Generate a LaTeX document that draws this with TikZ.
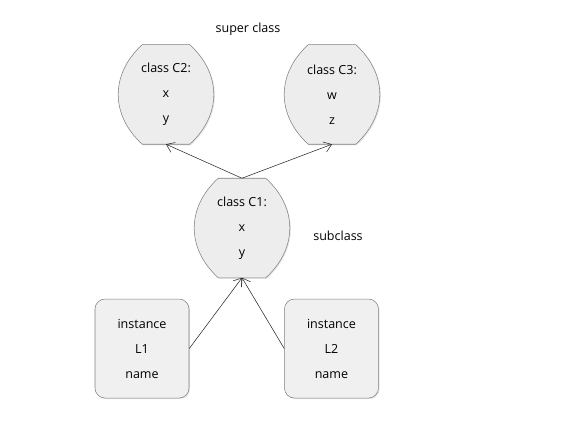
\documentclass[tikz,border=0pt]{standalone}
\usepackage{fontspec}
\setmainfont{Open Sans}
\usetikzlibrary{positioning,arrows.meta,backgrounds,shadows}

\tikzset{
	classnode/.style={minimum width=70.5pt, minimum height=74.25pt, inner sep=0pt, align=center, font=\fontsize{9.4}{18.75}\selectfont, yshift=0pt},
	instnode/.style={draw=black!50, fill=black!6, rounded corners=7.5pt, minimum width=70.5pt, minimum height=74.25pt, inner sep=0pt, align=center, font=\fontsize{9.4}{18.75}\selectfont, drop shadow={shadow xshift=0.8pt, shadow yshift=-0.8pt, opacity=0.2}},
	barrelline/.style={draw=black!50, fill=black!7, drop shadow={shadow xshift=0.8pt, shadow yshift=-0.8pt, opacity=0.2}},
	inherit/.style={draw=black!85, -{Straight Barb[length=5.5pt,width=8pt]}}
}

\begin{document}
\begin{tikzpicture}[x=0.75pt, y=-0.75pt]
	\useasboundingbox (0,0) rectangle (584,421);
	\node[classnode] (C1) at (242,228) {class C1:\\ x\\ y};
	\node[classnode, above = 25.5pt of C1, xshift=-57pt] (C2) {class C2:\\ x\\ y};
	\node[classnode, above = 25.5pt of C1, xshift=67.5pt] (C3) {class C3:\\ w\\ z};
	\node[instnode, below = 15.75pt of C1, xshift=-75pt] (L1) {instance\\ L1\\ name};
	\node[instnode, below = 15.75pt of C1, xshift=67.1pt] (L2) {instance\\ L2\\ name};
	\node[font=\fontsize{9.4}{10}\selectfont] (super) at (248,29) {super class};
	\node[font=\fontsize{9.4}{10}\selectfont] (sub) at (338,236) {subclass};
	% barrel outlines behind the class nodes
	\begin{scope}[on background layer]
		\foreach \n in {C1,C2,C3}
			\draw[barrelline] ([xshift=17.6pt]\n.north west) -- ([xshift=-17.6pt]\n.north east)
				.. controls +(24pt,-22pt) and +(24pt,22pt) .. ([xshift=-17.6pt]\n.south east)
				-- ([xshift=17.6pt]\n.south west)
				.. controls +(-24pt,22pt) and +(-24pt,-22pt) .. cycle;
	\end{scope}
	\draw[inherit] (C1.north) -- (C2.south);
	\draw[inherit] (C1.north) -- (C3.south);
	\draw[inherit] (L1.east) -- (C1.south);
	\draw[inherit] (L2.west) -- (C1.south);
\end{tikzpicture}
\end{document}
